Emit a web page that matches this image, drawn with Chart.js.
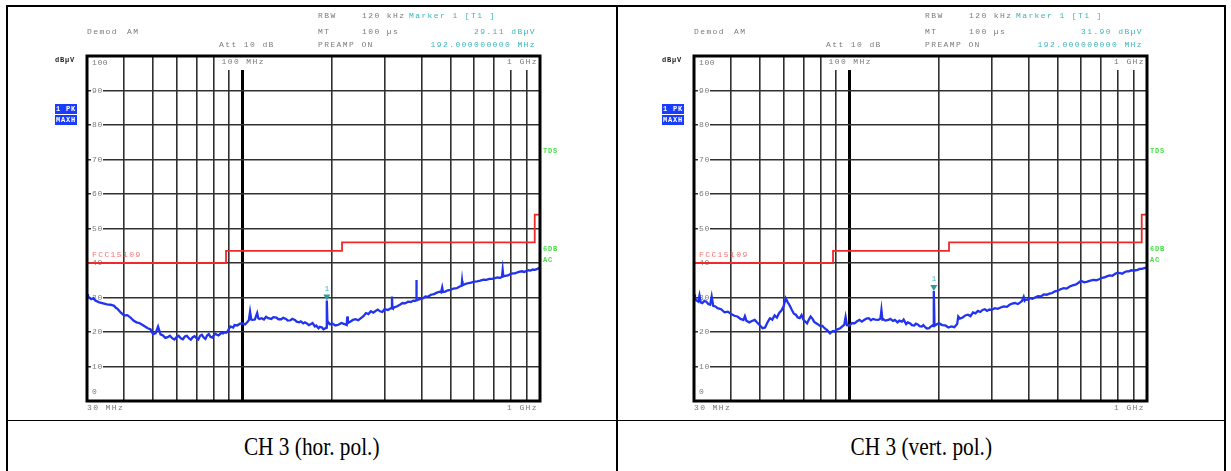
<!DOCTYPE html>
<html>
<head>
<meta charset="utf-8">
<script src="https://cdn.jsdelivr.net/npm/chart.js@4.4.1/dist/chart.umd.min.js"></script>
<style>
  body { margin: 0; background: #fff; width: 1231px; height: 471px; overflow: hidden; position: relative; }
  .ln { position: absolute; background: #000; }
  canvas { position: absolute; }
  .cap { position: absolute; top: 421px; height: 50px; text-align: center;
         font: 26px "Liberation Serif", serif; line-height: 52px; color: #000; }
  .cap span { display: inline-block; transform: scaleX(0.82); }
</style>
</head>
<body>
<div class="ln" style="left:6px;top:5px;width:1220px;height:2px"></div>
<div class="ln" style="left:6px;top:5px;width:2px;height:470px"></div>
<div class="ln" style="left:616px;top:5px;width:2px;height:470px"></div>
<div class="ln" style="left:1224px;top:5px;width:2px;height:470px"></div>
<div class="ln" style="left:6px;top:420px;width:1220px;height:1px"></div>

<canvas id="chH" width="608" height="411" style="left:8px;top:8px"></canvas>
<canvas id="chV" width="604" height="411" style="left:619px;top:8px"></canvas>

<div class="cap" style="left:8px;width:608px"><span>CH 3 (hor. pol.)</span></div>
<div class="cap" style="left:618px;width:606px"><span>CH 3 (vert. pol.)</span></div>

<script>
// frequency axis (MHz), log scale
const xTicks = [40, 50, 60, 70, 80, 90, 100, 200, 300, 400, 500, 600, 700, 800, 900];
const yTicks = [0, 10, 20, 30, 40, 50, 60, 70, 80, 90, 100];

// FCC 15.109 limit (dBµV), stepped
const limitFreq = [30, 88, 216, 960, 1000];
const limitLevel = [40, 43.5, 46, 54, 54];

// horizontal polarisation trace
const hFreq = [
  30, 30.5, 31, 31.5, 32, 33, 34, 35, 36, 37,
  37.5, 38, 39, 40, 41, 42, 43, 44, 45, 46,
  47, 48, 49, 50, 51, 52, 53, 54, 55, 56,
  57, 58, 59, 60, 61, 62, 63, 64, 65, 66,
  67, 68, 69, 70, 71, 72, 73, 74, 75, 76,
  77, 78, 79, 80, 81, 82, 83, 84, 85, 86,
  87, 88, 89, 90, 91, 93, 94, 96, 98, 100,
  102, 104, 105, 106, 107, 108, 110, 111, 112, 113,
  114, 116, 118, 120, 122, 125, 127, 130, 132, 135,
  137, 140, 142, 145, 147, 150, 152, 155, 157, 160,
  162, 165, 167, 170, 172, 175, 177, 180, 182, 185,
  187, 190, 191, 192, 193, 194, 197, 200, 205, 210,
  215, 220, 224, 225, 226, 230, 235, 240, 245, 250,
  255, 260, 265, 270, 275, 280, 285, 290, 295, 300,
  308, 315, 317, 318, 319, 320, 325, 330, 338, 345,
  352, 360, 368, 375, 380, 383, 384, 385, 390, 397,
  405, 412, 420, 430, 440, 450, 460, 465, 469, 472,
  480, 490, 500, 512, 525, 537, 545, 547, 549, 560,
  575, 587, 600, 615, 630, 645, 660, 675, 690, 705,
  720, 735, 745, 749, 753, 765, 780, 795, 810, 825,
  840, 855, 870, 885, 900, 915, 930, 945, 960, 980,
  1000];
const hLevel = [
  30.4, 30.0, 29.5, 29.8, 29.1, 28.6, 28.3, 28.0, 27.9, 27.6,
  27.0, 26.7, 25.6, 24.8, 24.9, 24.2, 23.3, 22.8, 22.6, 22.1,
  21.6, 21.1, 20.8, 19.4, 19.6, 21.6, 19.3, 19.0, 18.3, 18.5,
  18.9, 18.2, 17.8, 18.5, 18.9, 18.2, 17.9, 18.7, 18.9, 18.2,
  17.8, 18.5, 18.8, 18.2, 17.8, 18.9, 19.2, 18.4, 18.0, 19.0,
  19.4, 18.6, 18.4, 19.0, 19.5, 19.2, 19.0, 19.4, 19.8, 19.6,
  19.9, 19.8, 20.1, 20.9, 21.6, 21.3, 22.0, 21.9, 22.4, 22.5,
  22.2, 23.0, 23.4, 25.9, 23.6, 23.5, 23.6, 24.6, 25.5, 24.0,
  23.8, 24.0, 23.6, 24.4, 24.0, 23.8, 24.3, 24.2, 23.7, 23.7,
  24.1, 23.8, 23.3, 23.4, 23.8, 23.5, 23.0, 22.8, 23.1, 22.5,
  22.8, 22.4, 22.0, 22.3, 22.6, 21.6, 21.9, 21.1, 21.5, 21.3,
  20.8, 21.1, 21.3, 29.1, 22.4, 22.9, 22.2, 22.5, 21.9, 22.1,
  22.6, 22.3, 22.0, 24.5, 22.6, 23.0, 23.5, 23.7, 23.4, 24.0,
  24.6, 25.5, 25.2, 26.0, 25.6, 26.1, 26.5, 26.0, 25.8, 26.6,
  26.4, 26.9, 27.0, 30.3, 27.0, 26.9, 27.2, 27.4, 27.9, 28.4,
  28.3, 28.8, 28.7, 29.1, 29.0, 29.2, 35.1, 29.3, 29.4, 29.6,
  29.8, 30.3, 30.2, 30.8, 31.0, 31.4, 31.7, 31.5, 32.9, 31.6,
  31.7, 32.1, 32.2, 32.6, 32.7, 33.2, 33.4, 34.8, 33.5, 33.9,
  34.2, 34.3, 34.6, 34.7, 34.9, 35.2, 35.1, 35.4, 35.4, 35.6,
  35.8, 35.7, 36.0, 38.0, 36.1, 36.3, 36.4, 36.8, 37.0, 37.0,
  37.3, 37.5, 37.6, 37.4, 37.7, 37.9, 37.8, 38.1, 38.0, 38.3,
  38.7];

// vertical polarisation trace
const vFreq = [
  30, 30.5, 31, 31.3, 31.6, 32, 32.5, 33, 33.5, 34,
  34.4, 34.8, 35.4, 36, 37, 38, 39, 40, 41, 42,
  43, 44, 44.5, 45, 46, 47, 48, 49, 50, 51,
  52, 53, 54, 55, 56, 57, 58, 59, 60, 61,
  62, 63, 64, 65, 66, 67, 68, 69, 70, 71,
  72, 73, 74, 75, 76, 77, 78, 79, 80, 81,
  82, 83, 84, 85, 86, 87, 88, 89, 90, 92,
  93, 95, 96, 97, 98, 100, 102, 104, 106, 108,
  110, 112, 114, 116, 118, 120, 122, 125, 127, 128,
  129, 130, 132, 135, 137, 140, 142, 145, 147, 150,
  152, 155, 157, 160, 162, 165, 167, 170, 172, 175,
  177, 180, 182, 185, 187, 190, 191, 192, 193, 194,
  197, 200, 205, 210, 215, 220, 225, 230, 232, 235,
  240, 245, 250, 255, 260, 265, 270, 275, 280, 285,
  290, 295, 300, 308, 315, 322, 330, 338, 345, 352,
  360, 368, 375, 380, 385, 388, 390, 397, 405, 412,
  420, 430, 440, 450, 460, 470, 480, 490, 500, 512,
  525, 537, 550, 562, 575, 587, 600, 615, 630, 645,
  660, 675, 690, 705, 720, 735, 750, 765, 780, 795,
  810, 825, 840, 855, 870, 885, 900, 915, 930, 945,
  960, 980, 1000];
const vLevel = [
  30.3, 29.2, 28.8, 30.6, 28.6, 28.4, 29.0, 28.8, 28.1, 27.9,
  30.3, 27.6, 27.4, 26.9, 26.6, 25.7, 25.9, 25.2, 24.7, 24.5,
  23.8, 23.5, 24.6, 23.3, 22.8, 23.2, 23.5, 22.7, 21.9, 21.1,
  21.3, 22.8, 24.0, 23.6, 24.8, 24.2, 25.5, 26.2, 27.4, 29.8,
  28.6, 27.6, 26.4, 25.3, 25.0, 24.2, 24.0, 24.9, 23.5, 23.0,
  22.5, 23.6, 24.5, 23.9, 23.0, 22.6, 22.3, 22.0, 21.6, 21.8,
  21.3, 20.9, 20.6, 20.1, 19.6, 20.0, 20.3, 20.1, 20.6, 20.9,
  21.1, 21.8, 22.1, 24.3, 22.0, 21.9, 22.6, 22.5, 23.1, 23.5,
  23.0, 23.5, 23.9, 24.0, 23.4, 23.8, 23.6, 23.5, 23.9, 26.4,
  23.6, 23.7, 23.3, 23.5, 23.8, 23.2, 23.5, 22.8, 23.3, 23.0,
  23.6, 22.3, 22.8, 22.5, 22.0, 21.9, 22.4, 22.1, 21.7, 21.6,
  22.0, 21.3, 21.0, 21.1, 21.5, 21.9, 21.7, 31.9, 22.2, 21.9,
  22.3, 22.5, 22.0, 21.9, 21.3, 21.6, 21.4, 22.3, 24.5, 23.9,
  24.2, 24.8, 25.0, 24.6, 25.7, 25.4, 26.1, 25.8, 26.4, 26.6,
  26.1, 26.5, 26.4, 26.9, 26.7, 27.1, 27.4, 27.3, 27.9, 28.2,
  28.4, 28.1, 28.6, 29.0, 30.2, 29.1, 29.3, 29.4, 29.8, 29.6,
  30.0, 30.4, 30.3, 30.9, 30.8, 31.1, 31.3, 31.8, 31.9, 32.4,
  32.7, 32.6, 33.2, 33.5, 33.7, 34.2, 34.8, 34.4, 34.6, 34.9,
  35.1, 35.0, 35.3, 35.7, 35.8, 36.2, 36.4, 36.3, 36.8, 37.2,
  37.1, 36.9, 37.3, 37.6, 37.6, 37.9, 37.8, 37.9, 38.0, 38.3,
  38.3, 38.5, 38.7];

const markerFreq = 192;
const hMarkerText = '29.11 dBµV';
const vMarkerText = '31.90 dBµV';

const GREY = '#7a7a7a';
const TEAL = '#3ab5bd';
const GREEN = '#44dd44';
const BLUE = '#2233ee';

function txt(ctx, s, x, y, color, align) {
  ctx.fillStyle = color;
  ctx.textAlign = align || 'left';
  ctx.fillText(s, x, y);
}

const panelText = {
  id: 'panelText',
  beforeDatasetsDraw(chart) {
    const { ctx, chartArea: a, scales: { x, y } } = chart;
    ctx.save();
    ctx.textBaseline = 'middle';
    ctx.font = '8px "Liberation Mono"';
    ctx.letterSpacing = '0.6px';
    // level labels inside the grid
    yTicks.forEach(v => {
      let py = y.getPixelForValue(v);
      if (v === 100) py = a.top + 7;
      else if (v === 0) py = a.bottom - 9;
      else {
        ctx.fillStyle = '#fff';
        ctx.fillRect(a.left + 4, py - 2, 12, 4);
      }
      txt(ctx, String(v), a.left + 5, py, GREY);
    });
    // frequency labels at the top of the grid
    ctx.letterSpacing = '1.4px';
    const x100 = x.getPixelForValue(100);
    ctx.fillStyle = '#fff';
    ctx.fillRect(x100 - 22, a.top + 1, 44, 13);
    ctx.fillRect(a.right - 36, a.top + 1, 35, 13);
    txt(ctx, '100 MHz', x100 - 21, a.top + 6, GREY);
    txt(ctx, '1 GHz', a.right - 2, a.top + 6, GREY, 'right');
    // limit line name
    txt(ctx, 'FCC15109', a.left + 5, y.getPixelForValue(40) - 8, '#ff7070');
    ctx.restore();
  },
  afterDatasetsDraw(chart) {
    const { ctx, chartArea: a, scales: { x, y } } = chart;
    ctx.save();
    // marker 1
    const m = chart.data.datasets[1].data.find(p => p.x === markerFreq);
    const mx = x.getPixelForValue(m.x), my = y.getPixelForValue(m.y);
    ctx.fillStyle = '#2a9d9d';
    ctx.beginPath();
    ctx.moveTo(mx - 3.5, my - 6);
    ctx.lineTo(mx + 3.5, my - 6);
    ctx.lineTo(mx, my);
    ctx.closePath();
    ctx.fill();
    ctx.font = '8px "Liberation Mono"';
    ctx.textBaseline = 'middle';
    txt(ctx, '1', mx, my - 12, TEAL, 'center');
    // plot frame
    ctx.strokeStyle = '#000';
    ctx.lineWidth = 3;
    ctx.strokeRect(a.left, a.top, a.right - a.left, a.bottom - a.top);
    ctx.restore();
  },
  afterDraw(chart, args, opts) {
    const { ctx, chartArea: a } = chart;
    const L = a.left, R = a.right, T = a.top, B = a.bottom;
    ctx.save();
    ctx.textBaseline = 'middle';
    ctx.font = '8px "Liberation Mono"';
    ctx.letterSpacing = '1.4px';
    txt(ctx, 'RBW', L + 231, T - 40, GREY);
    txt(ctx, '120 kHz', L + 275, T - 40, GREY);
    txt(ctx, 'Marker 1 [T1 ]', L + 322, T - 40, TEAL);
    txt(ctx, 'Demod', L, T - 24, GREY);
    txt(ctx, 'AM', L + 40, T - 24, GREY);
    txt(ctx, 'MT', L + 231, T - 24, GREY);
    txt(ctx, '100 µs', L + 275, T - 24, GREY);
    txt(ctx, opts.markerText, R - 4, T - 24, TEAL, 'right');
    txt(ctx, 'Att 10 dB', L + 132, T - 11, GREY);
    txt(ctx, 'PREAMP ON', L + 231, T - 11, GREY);
    txt(ctx, '192.000000000 MHz', R - 4, T - 11, TEAL, 'right');
    txt(ctx, '30 MHz', L, B + 7, GREY);
    txt(ctx, '1 GHz', R - 2, B + 7, GREY, 'right');
    // left side
    ctx.font = 'bold 7px "Liberation Mono"';
    ctx.letterSpacing = '0.8px';
    txt(ctx, 'dBµV', L - 32, T + 4, '#222');
    ctx.fillStyle = '#1a3cff';
    ctx.fillRect(L - 32, T + 48, 22, 10);
    ctx.fillRect(L - 32, T + 59, 22, 10);
    txt(ctx, '1 PK', L - 31, T + 53, '#fff');
    txt(ctx, 'MAXH', L - 31, T + 64, '#fff');
    // right side
    txt(ctx, 'TDS', R + 3, T + 95, GREEN);
    txt(ctx, '6DB', R + 3, T + 193, GREEN);
    txt(ctx, 'AC', R + 3, T + 204, GREEN);
    ctx.restore();
  }
};

function makeChart(id, freq, level, markerText, padLeft, padRight) {
  return new Chart(document.getElementById(id), {
    type: 'line',
    data: {
      datasets: [{
        label: 'FCC15109',
        data: limitFreq.map((f, i) => ({ x: f, y: limitLevel[i] })),
        borderColor: '#f02a2a',
        borderWidth: 1.8,
        stepped: 'before',
        pointRadius: 0
      }, {
        label: 'Trace',
        data: freq.map((f, i) => ({ x: f, y: level[i] })),
        borderColor: BLUE,
        borderWidth: 2.3,
        tension: 0,
        pointRadius: ctx => ctx.dataIndex === 0 ? 3 : 0,
        pointStyle: 'rect',
        pointBackgroundColor: BLUE,
        pointBorderWidth: 0
      }]
    },
    options: {
      responsive: false,
      animation: false,
      devicePixelRatio: 1,
      layout: { padding: { left: padLeft, right: padRight, top: 48, bottom: 18 } },
      plugins: {
        legend: { display: false },
        tooltip: { enabled: false },
        panelText: { markerText }
      },
      scales: {
        x: {
          type: 'logarithmic',
          min: 30,
          max: 1000,
          afterBuildTicks: s => { s.ticks = xTicks.map(v => ({ value: v })); },
          afterFit: s => { s.height = 0; },
          ticks: { display: false, autoSkip: false },
          border: { display: false },
          grid: {
            drawTicks: false,
            color: c => c.tick && c.tick.value === 100 ? '#000' : '#303030',
            lineWidth: c => c.tick && c.tick.value === 100 ? 3 : 1.6
          }
        },
        y: {
          type: 'linear',
          min: 0,
          max: 100,
          afterBuildTicks: s => { s.ticks = yTicks.filter(v => v > 0 && v < 100).map(v => ({ value: v })); },
          afterFit: s => { s.width = 0; },
          ticks: { display: false },
          border: { display: false },
          grid: { drawTicks: false, color: '#303030', lineWidth: 1.6 }
        }
      }
    },
    plugins: [panelText]
  });
}

makeChart('chH', hFreq, hLevel, hMarkerText, 79, 76);
makeChart('chV', vFreq, vLevel, vMarkerText, 75, 76);
</script>
</body>
</html>
